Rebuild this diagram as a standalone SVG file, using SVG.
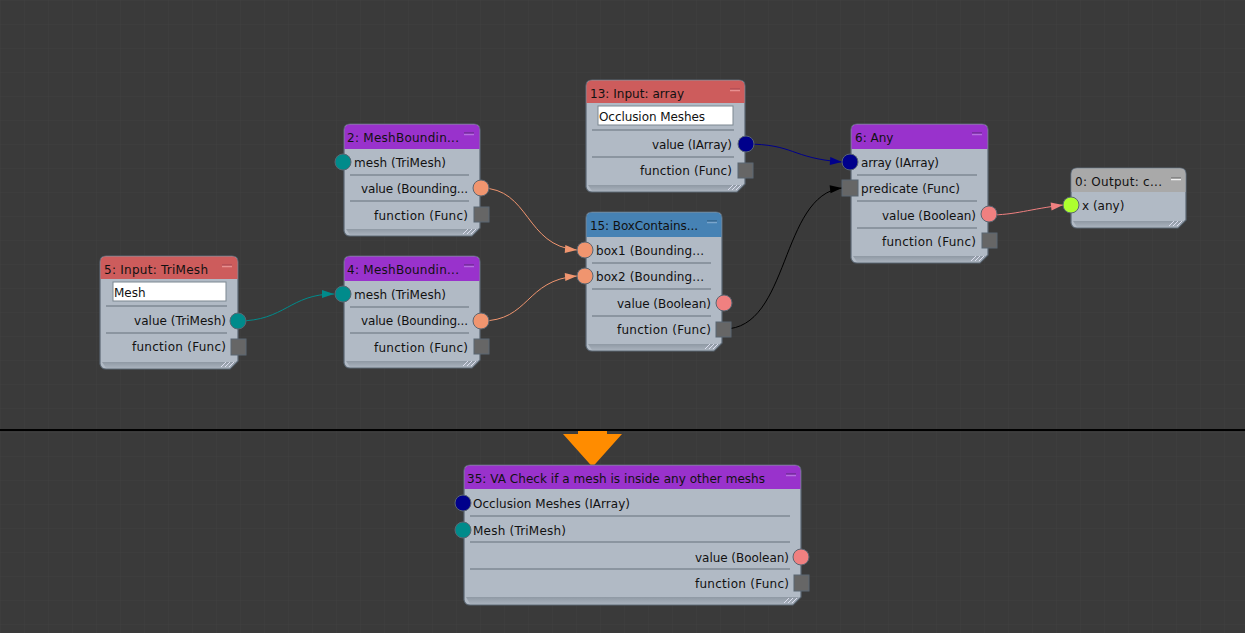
<svg xmlns="http://www.w3.org/2000/svg" width="1245" height="633" viewBox="0 0 1245 633">
<style>
text{font-family:"DejaVu Sans","Liberation Sans",sans-serif;font-size:12px;fill:#111}
.e{text-anchor:end}
.b{fill:#b1bac5;stroke:#5a6672;stroke-width:1.2}
.foot{fill:url(#fg)}
.r{stroke:#66717c;stroke-width:1.2;fill:none}
.min{fill:none;stroke-width:1.500}
.fn{fill:#666;stroke:#5a6672}
.t{fill:#008b8b;stroke:#5a6672}
.n{fill:#00008b;stroke:#5a6672}
.o{fill:#f0956f;stroke:#5a6672}
.p{fill:#f08080;stroke:#5a6672}
.g{fill:#adff2f;stroke:#5a6672}
.c{fill:none;stroke-width:1}
.tb{fill:#fff;stroke:#7d8791}
.hatch{stroke:#eef;stroke-width:.8}
</style>
<defs>
<linearGradient id="fg" x1="0" y1="0" x2="0" y2="1"><stop offset="0" stop-color="#8f99a4"/><stop offset="1" stop-color="#a8b1bc"/></linearGradient>
<pattern id="grid" width="24" height="24" patternUnits="userSpaceOnUse"><path d="M24 0H0V24" fill="none" stroke="#3f3f3f" stroke-width="1"/></pattern>
<marker id="mt" markerWidth="14" markerHeight="10" refX="13" refY="5" orient="auto" markerUnits="userSpaceOnUse"><path d="M1 1L13 5L1 9Z" fill="#008b8b"/></marker>
<marker id="mn" markerWidth="14" markerHeight="10" refX="13" refY="5" orient="auto" markerUnits="userSpaceOnUse"><path d="M1 1L13 5L1 9Z" fill="#00008b"/></marker>
<marker id="mo" markerWidth="14" markerHeight="10" refX="13" refY="5" orient="auto" markerUnits="userSpaceOnUse"><path d="M1 1L13 5L1 9Z" fill="#f0956f"/></marker>
<marker id="mp" markerWidth="14" markerHeight="10" refX="13" refY="5" orient="auto" markerUnits="userSpaceOnUse"><path d="M1 1L13 5L1 9Z" fill="#f08080"/></marker>
<marker id="mk" markerWidth="14" markerHeight="10" refX="13" refY="5" orient="auto" markerUnits="userSpaceOnUse"><path d="M1 1L13 5L1 9Z" fill="#000"/></marker>
</defs>
<rect width="1245" height="633" fill="#3a3a3a"/>
<rect width="1245" height="633" fill="url(#grid)"/>
<path d="M0 430H1245" stroke="#000" stroke-width="2"/>
<path id="arrow" d="M578 431H607V434H622L592.500 467L563 434H578Z" fill="#ff8c00"/>

<g id="connectors">
<path class="c" stroke="#008b8b" marker-end="url(#mt)" d="M238 321C285 321 290 294 334 294"/>
<path class="c" stroke="#f0956f" marker-end="url(#mo)" d="M481 188C530 188 525 246 577 250"/>
<path class="c" stroke="#f0956f" marker-end="url(#mo)" d="M481 321C530 321 525 280 577 276"/>
<path class="c" stroke="#00008b" marker-end="url(#mn)" d="M745 144C795 144 790 158 842 162"/>
<path class="c" stroke="#000" marker-end="url(#mk)" d="M724 329C790 329 780 195 842 188"/>
<path class="c" stroke="#f08080" marker-end="url(#mp)" d="M989 215C1015 215 1030 209 1063 205"/>
</g>

<g id="node5">
<path class="b" d="M100 262Q100 256 106 256H232Q238 256 238 262V361L230 369H106Q101 369 100 364Z"/>
<path fill="#cd5c5c" d="M100.500 279V262Q100.500 256.500 106 256.500H232Q237.500 256.500 237.500 262V279Z"/>
<path class="foot" d="M102 362H236L230 368H106Z"/>
<path class="hatch" d="M221 367l5-5M225 367l5-5M229 367l5-5"/>
<text x="104" y="274" textLength="104">5: Input: TriMesh</text>
<path class="min" stroke="#b04d55" d="M222 265H232"/><path class="min" stroke="#e89090" d="M222 266.500H232"/>
<rect class="tb" x="113" y="282" width="113" height="19"/>
<text x="114" y="297">Mesh</text>
<path class="r" d="M106 306H227M106 333H227"/>
<text class="e" x="226" y="325" textLength="92">value (TriMesh)</text>
<text class="e" x="226" y="351" textLength="94">function (Func)</text>
<circle class="t" cx="238" cy="321" r="8"/>
<rect class="fn" x="231" y="339" width="15" height="16"/>
</g>

<g id="node2">
<path class="b" d="M344 130Q344 124 350 124H474Q480 124 480 130V228L472 236H350Q345 236 344 231Z"/>
<path fill="#9932cc" d="M344.500 149V130Q344.500 124.500 350 124.500H474Q479.500 124.500 479.500 130V149Z"/>
<path class="foot" d="M346 229H478L472 235H350Z"/>
<path class="hatch" d="M463 234l5-5M467 234l5-5M471 234l5-5"/>
<text x="347" y="142" textLength="112">2: MeshBoundin...</text>
<path class="min" stroke="#6f2c95" d="M464 133H474"/><path class="min" stroke="#b56ee0" d="M464 134.500H474"/>
<path class="r" d="M350 175H469M350 201H469"/>
<text x="354" y="167" textLength="92">mesh (TriMesh)</text>
<text class="e" x="468" y="193" textLength="107">value (Bounding...</text>
<text class="e" x="468" y="220" textLength="94">function (Func)</text>
<circle class="t" cx="343" cy="162" r="8"/>
<circle class="o" cx="481" cy="188" r="8"/>
<rect class="fn" x="474" y="207" width="15" height="15"/>
</g>

<g id="node4">
<path class="b" d="M344 262Q344 256 350 256H474Q480 256 480 262V360L472 368H350Q345 368 344 363Z"/>
<path fill="#9932cc" d="M344.500 281V262Q344.500 256.500 350 256.500H474Q479.500 256.500 479.500 262V281Z"/>
<path class="foot" d="M346 361H478L472 367H350Z"/>
<path class="hatch" d="M463 366l5-5M467 366l5-5M471 366l5-5"/>
<text x="347" y="274" textLength="112">4: MeshBoundin...</text>
<path class="min" stroke="#6f2c95" d="M464 265H474"/><path class="min" stroke="#b56ee0" d="M464 266.500H474"/>
<path class="r" d="M350 307H469M350 333H469"/>
<text x="354" y="299" textLength="92">mesh (TriMesh)</text>
<text class="e" x="468" y="325" textLength="107">value (Bounding...</text>
<text class="e" x="468" y="352" textLength="94">function (Func)</text>
<circle class="t" cx="343" cy="294" r="8"/>
<circle class="o" cx="481" cy="321" r="8"/>
<rect class="fn" x="474" y="339" width="15" height="15"/>
</g>

<g id="node15">
<path class="b" d="M586 218Q586 212 592 212H716Q722 212 722 218V343L714 351H592Q587 351 586 346Z"/>
<path fill="#4682b4" d="M586.500 237V218Q586.500 212.500 592 212.500H716Q721.500 212.500 721.500 218V237Z"/>
<path class="foot" d="M588 344H720L714 350H592Z"/>
<path class="hatch" d="M705 349l5-5M709 349l5-5M713 349l5-5"/>
<text x="590" y="230" textLength="108">15: BoxContains...</text>
<path class="min" stroke="#35648c" d="M707 221H717"/><path class="min" stroke="#7aa5cc" d="M707 222.500H717"/>
<path class="r" d="M592 263H711M592 289H711M592 316H711"/>
<text x="596" y="255" textLength="108">box1 (Bounding...</text>
<text x="596" y="281" textLength="108">box2 (Bounding...</text>
<text class="e" x="711" y="308" textLength="94">value (Boolean)</text>
<text class="e" x="711" y="334" textLength="94">function (Func)</text>
<circle class="o" cx="585" cy="250" r="8"/>
<circle class="o" cx="585" cy="276" r="8"/>
<circle class="p" cx="724" cy="303" r="8"/>
<rect class="fn" x="716" y="322" width="15" height="15"/>
</g>

<g id="node13">
<path class="b" d="M586 86Q586 80 592 80H739Q745 80 745 86V184L737 192H592Q587 192 586 187Z"/>
<path fill="#cd5c5c" d="M586.500 103V86Q586.500 80.500 592 80.500H739Q744.500 80.500 744.500 86V103Z"/>
<path class="foot" d="M588 185H743L737 191H592Z"/>
<path class="hatch" d="M728 190l5-5M732 190l5-5M736 190l5-5"/>
<text x="590" y="98" textLength="94">13: Input: array</text>
<path class="min" stroke="#b04d55" d="M730 89H740"/><path class="min" stroke="#e89090" d="M730 90.500H740"/>
<rect class="tb" x="598" y="106" width="135" height="19"/>
<text x="599" y="121" textLength="106">Occlusion Meshes</text>
<path class="r" d="M592 130H734M592 157H734"/>
<text class="e" x="732" y="149" textLength="80">value (IArray)</text>
<text class="e" x="732" y="175" textLength="92">function (Func)</text>
<circle class="n" cx="746" cy="144" r="8"/>
<rect class="fn" x="738" y="163" width="15" height="15"/>
</g>

<g id="node6">
<path class="b" d="M851 130Q851 124 857 124H982Q988 124 988 130V255L980 263H857Q852 263 851 258Z"/>
<path fill="#9932cc" d="M851.500 149V130Q851.500 124.500 857 124.500H982Q987.500 124.500 987.500 130V149Z"/>
<path class="foot" d="M853 256H986L980 262H857Z"/>
<path class="hatch" d="M971 261l5-5M975 261l5-5M979 261l5-5"/>
<text x="855" y="142">6: Any</text>
<path class="min" stroke="#6f2c95" d="M972 133H982"/><path class="min" stroke="#b56ee0" d="M972 134.500H982"/>
<path class="r" d="M857 175H977M857 201H977M857 228H977"/>
<text x="861" y="167" textLength="78">array (IArray)</text>
<text x="861" y="193" textLength="99">predicate (Func)</text>
<text class="e" x="976" y="220" textLength="94">value (Boolean)</text>
<text class="e" x="976" y="246" textLength="94">function (Func)</text>
<circle class="n" cx="850" cy="162" r="8"/>
<rect class="fn" x="842" y="180" width="16" height="16"/>
<circle class="p" cx="989" cy="214" r="8"/>
<rect class="fn" x="982" y="233" width="15" height="15"/>
</g>

<g id="node0">
<path class="b" d="M1071 174Q1071 168 1077 168H1180Q1186 168 1186 174V220L1178 228H1077Q1072 228 1071 223Z"/>
<path fill="#a9a9a9" d="M1071.500 192V174Q1071.500 168.500 1077 168.500H1180Q1185.500 168.500 1185.500 174V192Z"/>
<path class="foot" d="M1073 221H1184L1178 227H1077Z"/>
<path class="hatch" d="M1169 226l5-5M1173 226l5-5M1177 226l5-5"/>
<text x="1075" y="186" textLength="87">0: Output: c...</text>
<path class="min" stroke="#7b7b7b" d="M1171 178H1181"/><path class="min" stroke="#f0f0f0" d="M1171 179.500H1181"/>
<text x="1082" y="210">x (any)</text>
<circle class="g" cx="1071" cy="205" r="8"/>
</g>

<g id="node35">
<path class="b" d="M464 471Q464 465 470 465H795Q801 465 801 471V597L793 605H470Q465 605 464 600Z"/>
<path fill="#9932cc" d="M464.500 489V471Q464.500 465.500 470 465.500H795Q800.500 465.500 800.500 471V489Z"/>
<path class="foot" d="M466 597H799L793 604H470Z"/>
<path class="hatch" d="M784 603l5-5M788 603l5-5M792 603l5-5"/>
<text x="467" y="483" textLength="298">35: VA Check if a mesh is inside any other meshs</text>
<path class="min" stroke="#6f2c95" d="M786 474H796"/><path class="min" stroke="#b56ee0" d="M786 475.500H796"/>
<path class="r" d="M470 516H790M470 542H790M470 569H790"/>
<text x="473" y="508" textLength="157">Occlusion Meshes (IArray)</text>
<text x="473" y="535" textLength="93">Mesh (TriMesh)</text>
<text class="e" x="789" y="562" textLength="94">value (Boolean)</text>
<text class="e" x="789" y="588" textLength="94">function (Func)</text>
<circle class="n" cx="463" cy="503" r="8"/>
<circle class="t" cx="463" cy="530" r="8"/>
<circle class="p" cx="801" cy="557" r="8"/>
<rect class="fn" x="794" y="575" width="15" height="16"/>
</g>
</svg>
